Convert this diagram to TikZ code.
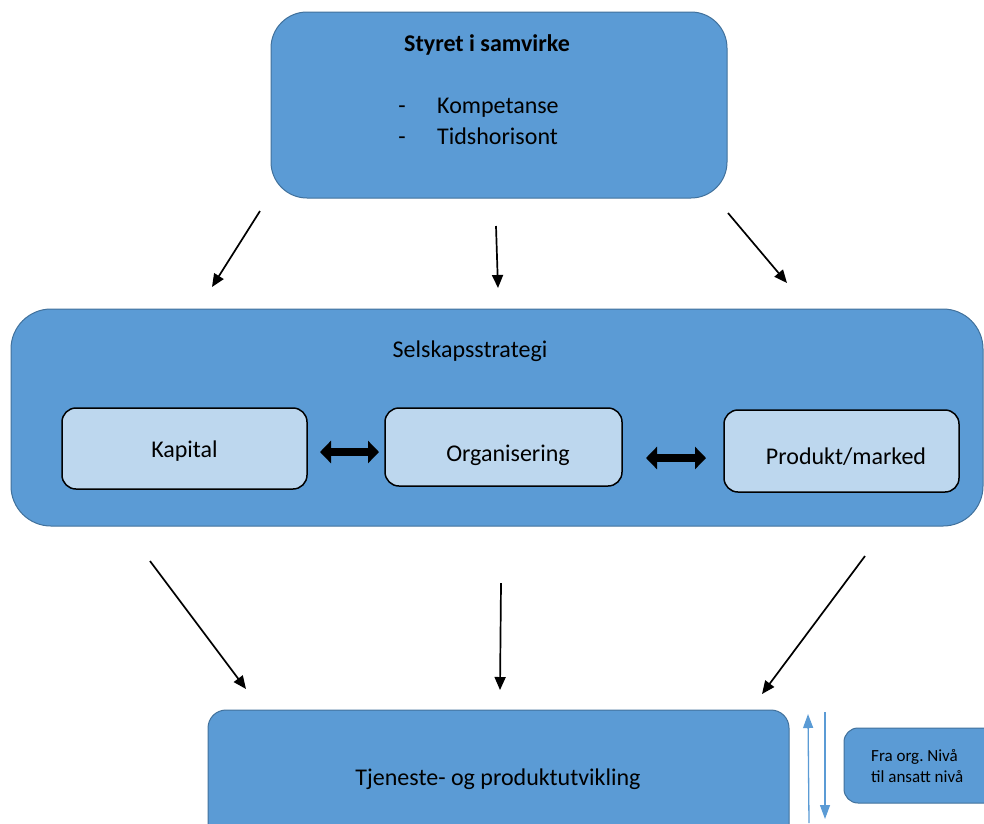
\documentclass[tikz,border=0pt]{standalone}
\usepackage{fontspec}
\setmainfont{Carlito}
\usetikzlibrary{arrows.meta}
\definecolor{boxblue}{HTML}{5B9BD5}
\definecolor{boxedge}{HTML}{41719C}
\definecolor{paleblue}{HTML}{BDD7EE}
\frenchspacing
\begin{document}
\begin{tikzpicture}[x=1pt,y=-1pt,
  bigbox/.style={draw=boxedge,line width=1pt,fill=boxblue,inner sep=0pt},
  subbox/.style={draw=black,line width=1.5pt,fill=paleblue,rounded corners=14pt,inner sep=0pt},
  flow/.style={line width=1.7pt,-{Triangle[length=13pt,width=11pt]}},
  link/.style={line width=8pt,{Triangle[length=11pt,width=22pt]}-{Triangle[length=11pt,width=22pt]}},
  updown/.style={draw=boxblue,line width=1.3pt,-{Triangle[length=14pt,width=10pt]}},
  txt/.style={font=\fontsize{24}{29}\selectfont,inner sep=0pt},
  small/.style={font=\fontsize{17}{21}\selectfont,inner sep=0pt}]
\useasboundingbox (0,0) rectangle (984,823);

% Board box
\draw[bigbox,rounded corners=36pt] (271,12) rectangle (727,198);
\node[txt,font=\fontsize{24}{29}\selectfont\bfseries] (styret) at (487,45) {Styret i samvirke};
\node[txt,anchor=base] (d1) at (402,113) {-};
\node[txt,anchor=base] (d2) at (402,144) {-};
\node[txt,anchor=base west] (komp) at (437,113) {Kompetanse};
\node[txt,anchor=base west] (tids) at (437,144) {Tidshorisont};

% Strategy box
\draw[bigbox,rounded corners=40pt] (11,309) rectangle (983,526);
\node[txt] (strat) at (470,351) {Selskapsstrategi};
\node[subbox,minimum width=245pt,minimum height=81pt] (kap) at (184.5,448.5) {};
\node[txt] at (184.5,451) {Kapital};
\node[subbox,minimum width=237pt,minimum height=78pt] (org) at (503.5,447) {};
\node[txt] at (508,455) {Organisering};
\node[subbox,minimum width=235pt,minimum height=82pt] (prod) at (841.5,451) {};
\node[txt] at (846,457) {Produkt/marked};

\coordinate (l1a) at (320,452); \coordinate (l1b) at (379,452);
\coordinate (l2a) at (646,458); \coordinate (l2b) at (706,458);
\draw[link] (l1a) -- (l1b);
\draw[link] (l2a) -- (l2b);

% Development box
\draw[bigbox,rounded corners=18pt] (208,710) rectangle (789,850);
\node[txt] (tjen) at (498,779) {Tjeneste- og produktutvikling};

% Level box
\draw[bigbox,rounded corners=14pt] (844,728) rectangle (1010,803);
\node[small,align=left,anchor=west] (niva) at (871,766) {Fra org. Nivå\\til ansatt nivå};

% Arrows from the board
\coordinate (a1) at (260,211); \coordinate (b1) at (212,287);
\coordinate (a2) at (496,226); \coordinate (b2) at (498,288);
\coordinate (a3) at (728,213); \coordinate (b3) at (787,283);
\draw[flow] (a1) -- (b1);
\draw[flow] (a2) -- (b2);
\draw[flow] (a3) -- (b3);

% Arrows towards development
\coordinate (c1) at (150,561); \coordinate (e1) at (246,689);
\coordinate (c2) at (501,583); \coordinate (e2) at (500,690);
\coordinate (c3) at (865,556); \coordinate (e3) at (762,694);
\draw[flow] (c1) -- (e1);
\draw[flow] (c2) -- (e2);
\draw[flow] (c3) -- (e3);

% Up and down between levels
\coordinate (u1) at (809,823); \coordinate (u2) at (808,714);
\coordinate (v1) at (825,712); \coordinate (v2) at (825,819);
\draw[updown] (u1) -- (u2);
\draw[updown] (v1) -- (v2);
\end{tikzpicture}
\end{document}
